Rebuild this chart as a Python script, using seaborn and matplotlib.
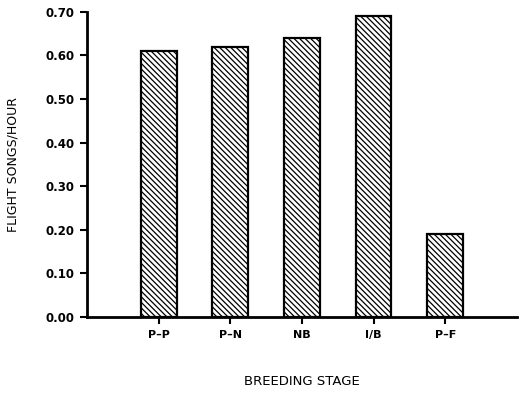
import matplotlib
matplotlib.use("Agg")
import matplotlib.pyplot as plt
import seaborn as sns
import pandas as pd

stages = ["P\u2013P", "P\u2013N", "NB", "I/B", "P\u2013F"]
songs_per_hour = [0.61, 0.62, 0.64, 0.69, 0.19]
y_ticks = [0.0, 0.1, 0.2, 0.3, 0.4, 0.5, 0.6, 0.7]

sns.set_style("ticks")
plt.rcParams['font.family'] = ['DejaVu Sans']
plt.rcParams['hatch.linewidth'] = 0.9
plt.rcParams['text.color'] = 'black'
plt.rcParams['axes.labelcolor'] = 'black'
plt.rcParams['xtick.color'] = 'black'
plt.rcParams['ytick.color'] = 'black'

df = pd.DataFrame({"stage": stages, "rate": songs_per_hour})

fig = plt.figure(figsize=(5.22, 3.94), dpi=100)
ax = fig.add_axes([0.1667, 0.1954, 0.8233, 0.7746])
sns.barplot(data=df, x="stage", y="rate", ax=ax, color="white",
            edgecolor="black", linewidth=1.6, width=0.5)
for p in ax.patches:
    p.set_hatch("\\\\\\\\\\\\")

ax.set_xlim(-1, 5)
ax.set_ylim(0, 0.70)
ax.set_yticks(y_ticks)
ax.set_yticklabels([f"{v:.2f}" for v in y_ticks], fontsize=8.5, fontweight="bold")
ax.set_xticklabels(stages, fontsize=8, fontweight="bold")
ax.tick_params(axis="both", length=5, width=1.5, color="black", labelcolor="black", pad=4)
for s in ["top", "right"]:
    ax.spines[s].set_visible(False)
for s in ["left", "bottom"]:
    ax.spines[s].set_linewidth(2)
    ax.spines[s].set_color("black")

ax.set_xlabel("BREEDING STAGE", fontsize=9.5, color="black")
ax.set_ylabel("FLIGHT SONGS/HOUR", fontsize=9, color="black")
ax.xaxis.set_label_coords(0.5, -0.19)
ax.yaxis.set_label_coords(-0.158, 0.5)

fig.savefig("out.png", dpi=100)
